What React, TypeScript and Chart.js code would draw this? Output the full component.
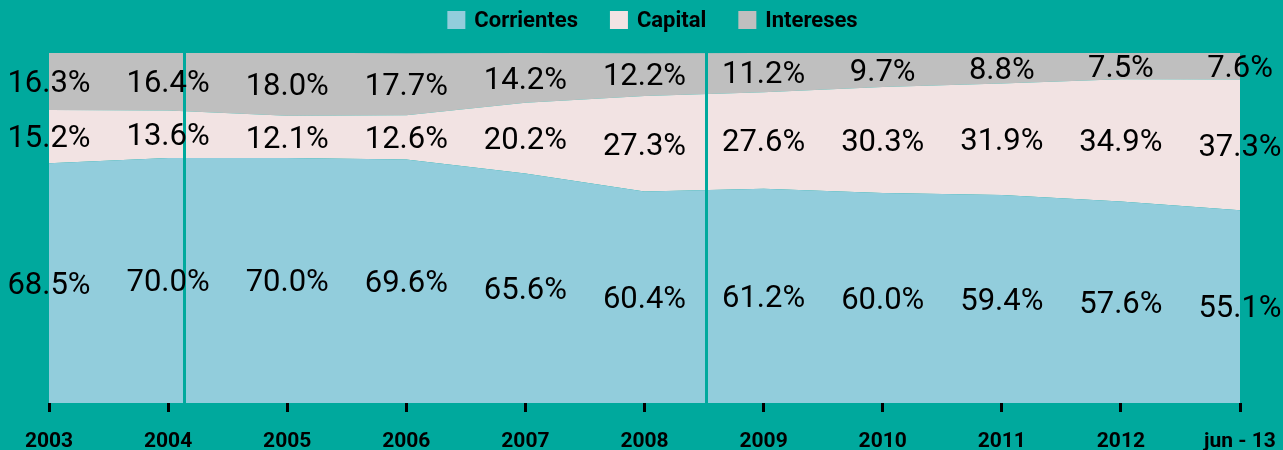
import React, { useEffect, useRef } from "react";
import { Chart, registerables } from "chart.js";

Chart.register(...registerables);

const categories = ["2003", "2004", "2005", "2006", "2007", "2008", "2009", "2010", "2011", "2012", "jun - 13"];
const corrientes = [68.5, 70.0, 70.0, 69.6, 65.6, 60.4, 61.2, 60.0, 59.4, 57.6, 55.1];
const capital = [15.2, 13.6, 12.1, 12.6, 20.2, 27.3, 27.6, 30.3, 31.9, 34.9, 37.3];
const intereses = [16.3, 16.4, 18.0, 17.7, 14.2, 12.2, 11.2, 9.7, 8.8, 7.5, 7.6];
const seriesNames = ["Corrientes", "Capital", "Intereses"];
const markerPositions = [1.13, 5.52];

const TEAL = "#00A99D";
const COLORS = ["#92CDDC", "#F2E3E3", "#BFBFBF"];
const FONT = "Roboto";

const labelsPlugin = {
  id: "segLabels",
  afterDatasetsDraw(chart: any) {
    const { ctx, chartArea } = chart;
    const xs = chart.scales.x;
    const ys = chart.scales.y;
    ctx.save();
    ctx.strokeStyle = TEAL;
    ctx.lineWidth = 3;
    markerPositions.forEach((m) => {
      const px = Math.round(xs.getPixelForValue(m)) + 0.5;
      ctx.beginPath();
      ctx.moveTo(px, chartArea.top);
      ctx.lineTo(px, chartArea.bottom);
      ctx.stroke();
    });
    ctx.restore();
    ctx.save();
    ctx.font = `400 31px ${FONT}`;
    ctx.fillStyle = "#000";
    ctx.textAlign = "center";
    ctx.textBaseline = "middle";
    const all = chart.data.datasets.map((d: any) => d.data as number[]);
    categories.forEach((_, j) => {
      let base = 0;
      all.forEach((arr: number[]) => {
        const v = arr[j];
        const y0 = ys.getPixelForValue(base);
        const y1 = ys.getPixelForValue(Math.min(base + v, 100));
        const x = xs.getPixelForValue(j);
        ctx.fillText(v.toFixed(1) + "%", x, (y0 + y1) / 2 + 3);
        base += v;
      });
    });
    ctx.restore();
  },
  afterDraw(chart: any) {
    const { ctx, chartArea } = chart;
    ctx.save();
    ctx.font = `700 22px ${FONT}`;
    ctx.textBaseline = "middle";
    const box = 18;
    const gapText = 9;
    const gapItem = 32;
    const widths = seriesNames.map((n) => box + gapText + ctx.measureText(n).width);
    const total = widths.reduce((a, b) => a + b, 0) + gapItem * (seriesNames.length - 1);
    let x = (chartArea.left + chartArea.right) / 2 - total / 2 + 8;
    const cy = 20;
    seriesNames.forEach((n, i) => {
      ctx.fillStyle = COLORS[i];
      ctx.fillRect(x, cy - box / 2, box, box);
      ctx.fillStyle = "#000";
      ctx.fillText(n, x + box + gapText, cy + 1);
      x += widths[i] + gapItem;
    });
    ctx.restore();
  },
};

export default function App() {
  const ref = useRef<HTMLCanvasElement>(null);
  useEffect(() => {
    document.body.style.margin = "0";
    document.body.style.background = TEAL;
    const chart = new Chart(ref.current!, {
      type: "line",
      data: {
        labels: categories,
        datasets: [
          { label: seriesNames[0], data: corrientes, backgroundColor: COLORS[0], fill: "origin" },
          { label: seriesNames[1], data: capital, backgroundColor: COLORS[1], fill: "-1" },
          { label: seriesNames[2], data: intereses, backgroundColor: COLORS[2], fill: "-1" },
        ].map((d) => ({ ...d, borderWidth: 0, pointRadius: 0, tension: 0, borderColor: "rgba(0,0,0,0)" })),
      },
      options: {
        animation: false,
        responsive: true,
        maintainAspectRatio: false,
        layout: { padding: { left: 49, right: 43, top: 53, bottom: 0 } },
        plugins: { legend: { display: false }, tooltip: { enabled: false } },
        scales: {
          x: {
            offset: false,
            border: { display: false },
            grid: { drawOnChartArea: false, drawTicks: true, tickLength: 9, color: "#000", lineWidth: 3 },
            ticks: { color: "#000", font: { family: FONT, size: 21, weight: "bold" }, padding: 17, maxRotation: 0, autoSkip: false },
            afterFit(scale: any) {
              scale.height = 47;
              scale.paddingLeft = 0;
              scale.paddingRight = 0;
            },
          },
          y: {
            display: false,
            stacked: true,
            min: 0,
            max: 100,
          },
        },
      },
      plugins: [labelsPlugin],
    });
    return () => chart.destroy();
  }, []);
  return (
    <div style={{ position: "absolute", left: 0, top: 0, width: 1283, height: 450, background: TEAL }}>
      <canvas ref={ref} />
    </div>
  );
}
